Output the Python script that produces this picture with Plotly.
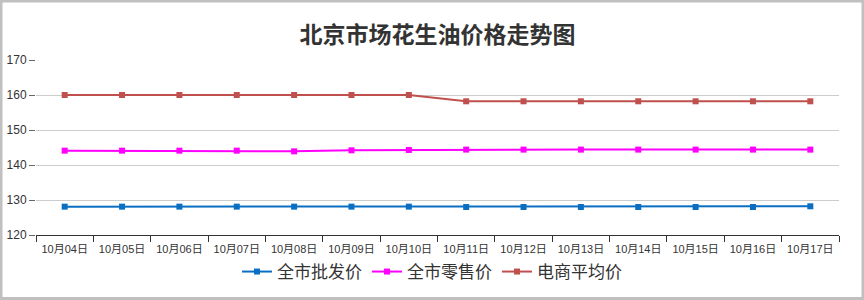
import plotly.graph_objects as go

dates = ["10月04日", "10月05日", "10月06日", "10月07日", "10月08日", "10月09日", "10月10日",
         "10月11日", "10月12日", "10月13日", "10月14日", "10月15日", "10月16日", "10月17日"]
wholesale = [128.1, 128.1, 128.1, 128.1, 128.1, 128.1, 128.1, 128.0, 128.0, 128.0, 128.0, 128.0, 128.0, 128.2]
retail = [144.1, 144.1, 144.1, 144.1, 143.9, 144.2, 144.3, 144.4, 144.4, 144.4, 144.4, 144.4, 144.4, 144.4]
ecommerce = [160.0, 160.0, 160.0, 160.0, 160.0, 160.0, 160.0, 158.2, 158.2, 158.2, 158.2, 158.2, 158.2, 158.2]

series = [("全市批发价", wholesale, "#0a6fc2"),
          ("全市零售价", retail, "#ff00ff"),
          ("电商平均价", ecommerce, "#c0504d")]

fig = go.Figure()
for name, vals, col in series:
    fig.add_trace(go.Scatter(x=dates, y=vals, name=name, mode="lines+markers",
                             line=dict(color=col, width=2),
                             marker=dict(symbol="square", size=6, color=col)))

W, H = 864, 300
ml, mr, mt, mb = 36, 25, 60, 65
pw, ph = W - ml - mr, H - mt - mb

fig.update_layout(
    width=W, height=H,
    margin=dict(l=ml, r=mr, t=mt, b=mb, autoexpand=False),
    paper_bgcolor="white", plot_bgcolor="white",
    font=dict(family="Liberation Sans, Arial, Noto Sans CJK SC", size=11, color="#333333"),
    title=dict(text="<b>北京市场花生油价格走势图</b>", x=0.5, xref="paper", xanchor="center",
               y=1 - 35 / H, yanchor="middle",
               font=dict(family="Noto Sans CJK SC, sans-serif", size=23, color="#333333")),
    showlegend=True,
    legend=dict(orientation="h", x=0.5, xanchor="center", xref="container",
                y=1 - 272 / H, yanchor="middle", yref="container",
                bgcolor="rgba(0,0,0,0)",
                font=dict(family="Noto Sans CJK SC, sans-serif", size=17, color="#333333"),
                itemwidth=30, tracegroupgap=0),
    xaxis=dict(type="category", tickson="boundaries", ticks="outside", ticklen=6,
               tickcolor="#333333", showline=True, linecolor="#333333", linewidth=1,
               showgrid=False, tickfont=dict(size=11, color="#333333"),
               ticklabelstandoff=4,
               range=[-0.5, len(dates) - 0.5]),
    yaxis=dict(range=[120, 170], dtick=10, ticks="outside", ticklen=6, tickcolor="#666666",
               showline=False, showgrid=True, gridcolor="#cccccc", gridwidth=1,
               zeroline=False, tickfont=dict(size=12, color="#333333")),
    shapes=[dict(type="rect", xref="paper", yref="paper",
                 x0=(-ml + 1) / pw, x1=1 + (mr - 1) / pw,
                 y0=(-mb + 1.5) / ph, y1=1 + (mt - 1) / ph,
                 line=dict(color="#c0c0c0", width=3), fillcolor="rgba(0,0,0,0)", layer="above")],
)

fig.write_html("out.html")
